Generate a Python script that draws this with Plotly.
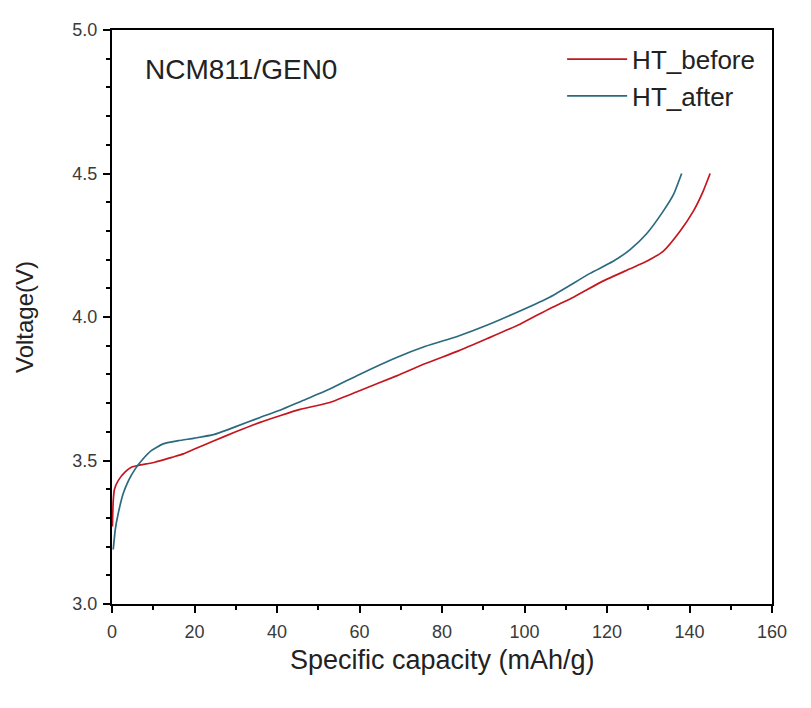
import plotly.graph_objects as go

# HT_before (red)
cap_before = [0.1, 0.3, 0.6, 1.5, 3.2, 4.8, 6.4, 10.4, 14.5, 17.3, 20, 24.6, 30, 35.9, 40.7, 45.6, 52.8,
              60, 69, 76, 84, 91, 98.9, 106.2, 112, 119, 125.6, 129.6, 133.6, 137.7, 140.9, 143.3, 145]
v_before = [3.27, 3.36, 3.40, 3.43, 3.46, 3.477, 3.483, 3.494, 3.511, 3.523, 3.54, 3.568, 3.60, 3.633, 3.656, 3.678, 3.702,
            3.743, 3.795, 3.838, 3.882, 3.925, 3.975, 4.03, 4.07, 4.125, 4.168, 4.194, 4.229, 4.299, 4.368, 4.438, 4.50]

# HT_after (blue)
cap_after = [0.3, 0.8, 1.5, 2.7, 4.0, 5.6, 7.2, 9.6, 12.4, 16.1, 20, 24.6, 30, 35.9, 40.7, 45.6, 52.8,
             60, 69, 76, 84, 91, 98.9, 106.2, 115.9, 121.5, 125.6, 129.6, 133.6, 136.1, 138.1]
v_after = [3.19, 3.26, 3.315, 3.384, 3.43, 3.47, 3.50, 3.535, 3.558, 3.569, 3.578, 3.59, 3.618, 3.65, 3.675, 3.705, 3.749,
           3.80, 3.859, 3.898, 3.934, 3.972, 4.021, 4.07, 4.152, 4.194, 4.235, 4.29, 4.368, 4.426, 4.50]

x_ticks = [0, 20, 40, 60, 80, 100, 120, 140, 160]
y_ticks = [3.0, 3.5, 4.0, 4.5, 5.0]

FONT = "Liberation Sans, Arial, sans-serif"

fig = go.Figure()
fig.add_trace(go.Scatter(x=cap_before, y=v_before, mode="lines", name="HT_before",
                         line=dict(color="#c4161f", width=1.7, shape="spline", smoothing=0.5)))
fig.add_trace(go.Scatter(x=cap_after, y=v_after, mode="lines", name="HT_after",
                         line=dict(color="#2b6a7e", width=1.7, shape="spline", smoothing=0.5)))

axis_common = dict(
    showline=True, linecolor="black", linewidth=2, mirror=True,
    ticks="outside", ticklen=7, tickwidth=2, tickcolor="black",
    showgrid=False, zeroline=False,
    tickfont=dict(family=FONT, size=18, color="#3a3a3a"),
)

fig.update_xaxes(range=[0, 160], tickvals=x_ticks, ticktext=[str(t) for t in x_ticks],
                 minor=dict(dtick=10, ticks="outside", ticklen=4, tickwidth=2, tickcolor="black"),
                 ticklabelstandoff=3,
                 **axis_common)
fig.update_yaxes(range=[3.0, 5.0], tickvals=y_ticks, ticktext=[f"{t:.1f}" for t in y_ticks],
                 minor=dict(dtick=0.1, ticks="outside", ticklen=4, tickwidth=2, tickcolor="black"),
                 title=dict(text="Voltage(V)", font=dict(family=FONT, size=24, color="#222"),
                            standoff=32),
                 ticklabelstandoff=2,
                 **axis_common)

# x-axis title placed as a paper annotation to match the tight spacing of the original
fig.add_annotation(text="Specific capacity (mAh/g)", xref="paper", yref="paper", x=0.5, y=-0.0972,
                   xanchor="center", yanchor="middle", showarrow=False,
                   font=dict(family=FONT, size=27, color="#222"))

fig.add_annotation(text="NCM811/GEN0", xref="paper", yref="paper", x=0.047, y=0.932,
                   xanchor="left", yanchor="middle", showarrow=False,
                   font=dict(family=FONT, size=28, color="#222"))

fig.update_layout(
    width=811, height=708,
    margin=dict(l=104, r=47, t=20, b=112),
    paper_bgcolor="white", plot_bgcolor="white",
    showlegend=True,
    legend=dict(x=0.682, y=0.99, xanchor="left", yanchor="top",
                font=dict(family=FONT, size=26, color="#222"),
                bgcolor="rgba(0,0,0,0)", tracegroupgap=0, itemwidth=60),
)

fig.write_html("out.html")
